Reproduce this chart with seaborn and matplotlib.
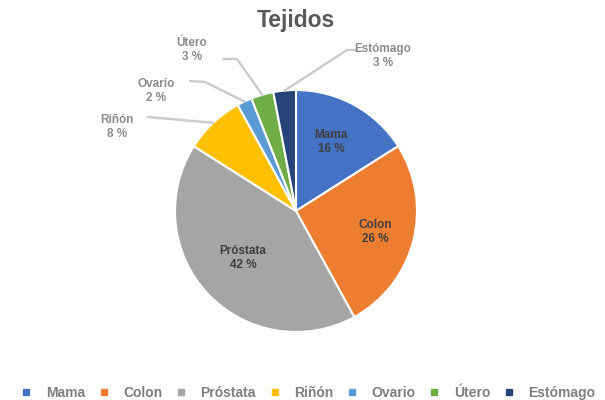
import numpy as np
import matplotlib.pyplot as plt
import seaborn as sns
from matplotlib.lines import Line2D

# --- data ---
tejidos = ["Mama", "Colon", "Próstata", "Riñón", "Ovario", "Útero", "Estómago"]
porcentajes = [16, 26, 42, 8, 2, 3, 3]
colores = ["#4472C4", "#ED7D31", "#A5A5A5", "#FFC000", "#5B9BD5", "#70AD47", "#264478"]

sns.set_theme(style="white")
plt.rcParams["font.family"] = ["Liberation Sans", "DejaVu Sans"]

fig = plt.figure(figsize=(6.05, 4.0), dpi=100)
ax = fig.add_axes([0, 0, 1, 1])

# pie centred at pixel (296, 211), radius 121 px
R = 121.0
cx, cy = 296.0, 211.0

def px(x, y):
    # pixel coords -> data coords
    return (x - cx) / R, (cy - y) / R

wedges, _ = ax.pie(porcentajes, colors=colores, startangle=90, counterclock=False,
                   radius=1.0, wedgeprops=dict(edgecolor="white", linewidth=1.5))

ax.set_xlim(-cx / R, (605 - cx) / R)
ax.set_ylim((cy - 400) / R, cy / R)
ax.set_aspect("equal")
ax.axis("off")

# --- labels inside the big slices ---
dentro = {"Mama": (331, 142), "Colon": (375, 232), "Próstata": (243, 258)}
for nombre, (x, y) in dentro.items():
    i = tejidos.index(nombre)
    ax.text(*px(x, y), f"{nombre}\n{porcentajes[i]} %", ha="center", va="center",
            fontsize=8.5, fontweight="bold", color="#404040", linespacing=1.3)

# --- labels outside with leader lines ---
fuera = {
    "Riñón": ((117, 127), [(148, 117)]),
    "Ovario": ((156, 91), [(190, 81), (205, 82)]),
    "Útero": ((192, 50), [(223, 59), (237, 59)]),
    "Estómago": ((383, 56), [(357, 50), (347, 50)]),
}
for nombre, ((x, y), codo) in fuera.items():
    i = tejidos.index(nombre)
    ax.text(*px(x, y), f"{nombre}\n{porcentajes[i]} %", ha="center", va="center",
            fontsize=8.5, fontweight="bold", color="#8c8c8c", linespacing=1.3)
    w = wedges[i]
    ang = np.deg2rad((w.theta1 + w.theta2) / 2)
    pts = [px(*p) for p in codo] + [(np.cos(ang), np.sin(ang))]
    xs, ys = zip(*pts)
    ax.plot(xs, ys, color="#cccccc", lw=1.8, solid_capstyle="round")

ax.text(*px(296, 21), "Tejidos", ha="center", va="center", fontsize=16.5,
        fontweight="bold", color="#595959")

handles = [Line2D([0], [0], marker="s", linestyle="", markersize=4.5,
                  markerfacecolor=c, markeredgecolor=c) for c in colores]
fig.legend(handles, tejidos, loc="center", bbox_to_anchor=(0.507, 0.018), ncol=7,
           frameon=False, labelcolor="#7f7f7f", handletextpad=0.8,
           columnspacing=0.75, handlelength=1.2, prop={"weight": "bold", "size": 10})

fig.savefig("out.png", dpi=100, facecolor="white")
